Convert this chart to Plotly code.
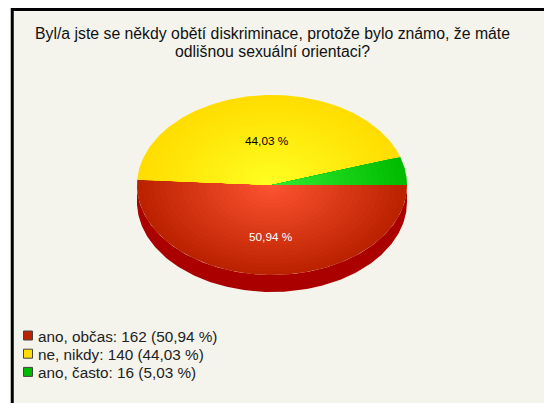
import numpy as np
import plotly.graph_objects as go

title_lines = ["Byl/a jste se někdy obětí diskriminace, protože bylo známo, že máte",
               "odlišnou sexuální orientaci?"]
categories = ["ano, občas", "ne, nikdy", "ano, často"]
counts = [162, 140, 16]
inner_colors = [(255, 85, 51), (255, 255, 34), (51, 238, 51)]
outer_colors = [(187, 34, 0), (255, 221, 0), (0, 187, 0)]
swatch_colors = ["#BB2200", "#FFDD00", "#00BB00"]
label_colors = ["#FFFFFF", "#000000", None]
label_xy = [(271, 237), (267, 141), None]

W, H = 544, 403
BG = "#F4F4EC"
cx, cy, rx, ry, depth = 272, 185, 135, 90, 17
STEPS = 24

total = sum(counts)
pcts = [100 * c / total for c in counts]
fmt = lambda p: f"{p:.2f}".replace(".", ",") + " %"

fig = go.Figure()

# side wall of the lower half
t = np.radians(np.linspace(0, 180, 181))
wx = np.concatenate([cx + rx * np.cos(t), (cx + rx * np.cos(t))[::-1]])
wy = np.concatenate([cy + ry * np.sin(t) + depth, (cy + ry * np.sin(t))[::-1]])
fig.add_trace(go.Scatter(x=wx, y=wy, mode="lines", fill="toself", fillcolor="#AA0000",
                         line=dict(width=0), hoverinfo="skip", showlegend=False))

start = 0.0
for name, p, c0, c1 in zip(categories, pcts, inner_colors, outer_colors):
    end = start + 3.6 * p
    a = np.radians(np.linspace(start, end, max(int(end - start) + 2, 3)))
    # nested copies of the slice, outermost first, make the radial shading
    for k in range(STEPS):
        s = 1 - k / STEPS
        col = [round(c1[j] + (c0[j] - c1[j]) * (1 - s)) for j in range(3)]
        xs = np.concatenate([[cx], cx + s * rx * np.cos(a), [cx]])
        ys = np.concatenate([[cy], cy + s * ry * np.sin(a), [cy]])
        fig.add_trace(go.Scatter(
            x=xs, y=ys, mode="lines", fill="toself", name=name,
            fillcolor=f"rgb({col[0]},{col[1]},{col[2]})",
            line=dict(width=0), hoverinfo="name" if k == 0 else "skip", showlegend=False))
    start = end

shapes = [
    dict(type="rect", xref="x", yref="y", x0=12.25, x1=W + 5, y0=9.5, y1=H + 5, fillcolor=BG,
         line=dict(color="#000000", width=3), layer="below"),
]
annotations = []
for line, y in zip(title_lines, (33, 51)):
    annotations.append(dict(x=272, y=y, xref="x", yref="y", text=line, showarrow=False,
                            font=dict(family="Liberation Sans", size=15.8, color="#111111")))

for xy, col, p in zip(label_xy, label_colors, pcts):
    if xy:
        annotations.append(dict(x=xy[0], y=xy[1], xref="x", yref="y", text=fmt(p), showarrow=False,
                                font=dict(family="Liberation Sans", size=11.8, color=col)))

for i, (name, n, p, col) in enumerate(zip(categories, counts, pcts, swatch_colors)):
    y = 335.5 + 18.2 * i
    shapes.append(dict(type="rect", xref="x", yref="y", x0=23.5, x1=32.5, y0=y - 4.5, y1=y + 4.5,
                       fillcolor=col, line=dict(color="#444444", width=1)))
    annotations.append(dict(x=35.5, y=y + 0.5, xref="x", yref="y", xanchor="left",
                            text=f"{name}: {n} ({fmt(p)})", showarrow=False,
                            font=dict(family="Liberation Sans", size=15.3, color="#222222")))

fig.update_layout(
    width=W, height=H, margin=dict(l=0, r=0, t=0, b=0), paper_bgcolor="#FFFFFF", plot_bgcolor="#FFFFFF",
    xaxis=dict(range=[0, W], visible=False, fixedrange=True),
    yaxis=dict(range=[H, 0], visible=False, fixedrange=True),
    shapes=shapes, annotations=annotations, showlegend=False,
)
fig.write_html("out.html", config=dict(displayModeBar=False),
               post_script="document.body.style.margin='0';document.body.style.overflow='hidden';")
